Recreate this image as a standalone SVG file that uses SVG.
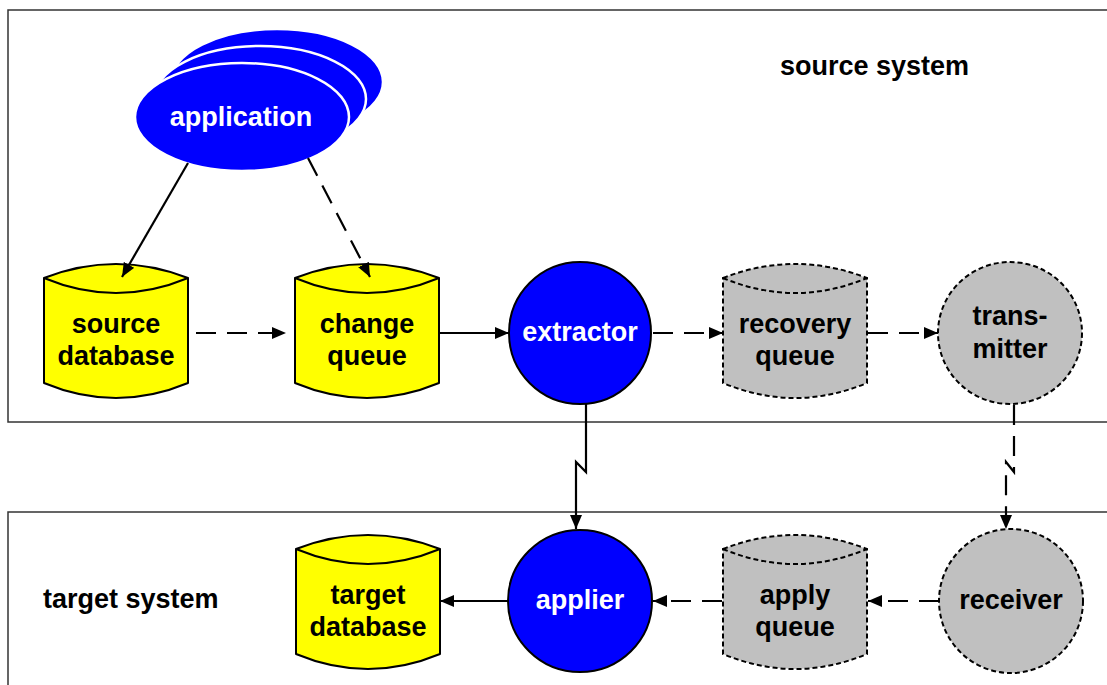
<svg xmlns="http://www.w3.org/2000/svg" width="1107" height="685" viewBox="0 0 1107 685">
<defs>
<style>
.frame{fill:none;stroke:#333;stroke-width:1.5}
.title{font-family:"Liberation Sans",Arial,sans-serif;font-weight:bold;font-size:27px;fill:#000}
.lbl{font-family:"Liberation Sans",Arial,sans-serif;font-weight:bold;font-size:27px;text-anchor:middle;fill:#000}
.wlbl{font-family:"Liberation Sans",Arial,sans-serif;font-weight:bold;font-size:27px;text-anchor:middle;fill:#fff}
.app{fill:#0000ff;stroke:#fff;stroke-width:2.5}
.ycyl{fill:#ffff00;stroke:#000;stroke-width:2;stroke-linejoin:round}
.gcyl{fill:#c0c0c0;stroke:#000;stroke-width:2;stroke-dasharray:5 3}
.inner{fill:none}
.bcirc{fill:#0000ff;stroke:#000;stroke-width:2}
.gcirc{fill:#c0c0c0;stroke:#000;stroke-width:2;stroke-dasharray:5 3}
.solid{fill:none;stroke:#000;stroke-width:2.2;marker-end:url(#ah)}
.dash{fill:none;stroke:#000;stroke-width:2.2;stroke-dasharray:20 11;marker-end:url(#ah)}
</style>
<marker id="ah" viewBox="0 0 14 12" refX="14" refY="6" markerWidth="14" markerHeight="12" markerUnits="userSpaceOnUse" orient="auto">
<path d="M0,0 L14,6 L0,12 z" fill="#000"/>
</marker>
</defs>
<rect width="1107" height="685" fill="#fff"/>
<g id="source-system">
<rect class="frame" x="8" y="10" width="1120" height="412"/>
<text class="title" x="780" y="75">source system</text>
</g>
<g id="target-system">
<rect class="frame" x="8" y="512" width="1120" height="200"/>
<text class="title" x="43" y="608">target system</text>
</g>
<g id="application">
<ellipse class="app" cx="277" cy="82" rx="106" ry="53"/>
<ellipse class="app" cx="260" cy="99" rx="106" ry="53"/>
<ellipse class="app" cx="242" cy="117" rx="107" ry="54"/>
<text class="wlbl" x="241" y="126">application</text>
</g>
<g id="source-database" transform="translate(44,264)">
<path class="ycyl" d="M0,14 Q72,-14 144,14 L144,119 Q72,149 0,119 Z"/>
<path class="ycyl inner" d="M0,14 Q72,44 144,14"/>
<text class="lbl" x="72" y="69">source</text>
<text class="lbl" x="72" y="101">database</text>
</g>
<g id="change-queue" transform="translate(295,264)">
<path class="ycyl" d="M0,14 Q72,-14 144,14 L144,119 Q72,149 0,119 Z"/>
<path class="ycyl inner" d="M0,14 Q72,44 144,14"/>
<text class="lbl" x="72" y="69">change</text>
<text class="lbl" x="72" y="101">queue</text>
</g>
<g id="extractor">
<ellipse class="bcirc" cx="580" cy="333" rx="71" ry="71"/>
<text class="wlbl" x="580" y="341">extractor</text>
</g>
<g id="recovery-queue" transform="translate(723,264)">
<path class="gcyl" d="M0,14 Q72,-14 144,14 L144,119 Q72,149 0,119 Z"/>
<path class="gcyl inner" d="M0,14 Q72,44 144,14"/>
<text class="lbl" x="72" y="69">recovery</text>
<text class="lbl" x="72" y="101">queue</text>
</g>
<g id="transmitter">
<ellipse class="gcirc" cx="1010" cy="333" rx="72" ry="71"/>
<text class="lbl" x="1010" y="325">trans-</text>
<text class="lbl" x="1010" y="358">mitter</text>
</g>
<g id="receiver">
<ellipse class="gcirc" cx="1011" cy="601" rx="72" ry="72"/>
<text class="lbl" x="1011" y="609">receiver</text>
</g>
<g id="apply-queue" transform="translate(723,535)">
<path class="gcyl" d="M0,14 Q72,-14 144,14 L144,119 Q72,149 0,119 Z"/>
<path class="gcyl inner" d="M0,14 Q72,44 144,14"/>
<text class="lbl" x="72" y="69">apply</text>
<text class="lbl" x="72" y="101">queue</text>
</g>
<g id="applier">
<ellipse class="bcirc" cx="580" cy="601" rx="72" ry="71"/>
<text class="wlbl" x="580" y="609">applier</text>
</g>
<g id="target-database" transform="translate(296,535)">
<path class="ycyl" d="M0,14 Q72,-14 144,14 L144,119 Q72,149 0,119 Z"/>
<path class="ycyl inner" d="M0,14 Q72,44 144,14"/>
<text class="lbl" x="72" y="69">target</text>
<text class="lbl" x="72" y="101">database</text>
</g>
<g id="connectors">
<path class="solid" d="M188,163 L122,277"/>
<path class="dash" d="M308,158 L370,277"/>
<path class="dash" d="M196,333 L286,333"/>
<path class="solid" d="M438,333 L509,333"/>
<path class="dash" d="M653,333 L723,333"/>
<path class="dash" d="M868,333 L938,333"/>
<path class="solid" d="M586,404 L586,472 L576,462 L576,529"/>
<path class="dash" d="M1014,405 L1014,472 L1006,462 L1006,529"/>
<path class="dash" d="M939,601 L868,601"/>
<path class="dash" d="M722,601 L653,601"/>
<path class="solid" d="M508,601 L440,601"/>
</g>
</svg>
